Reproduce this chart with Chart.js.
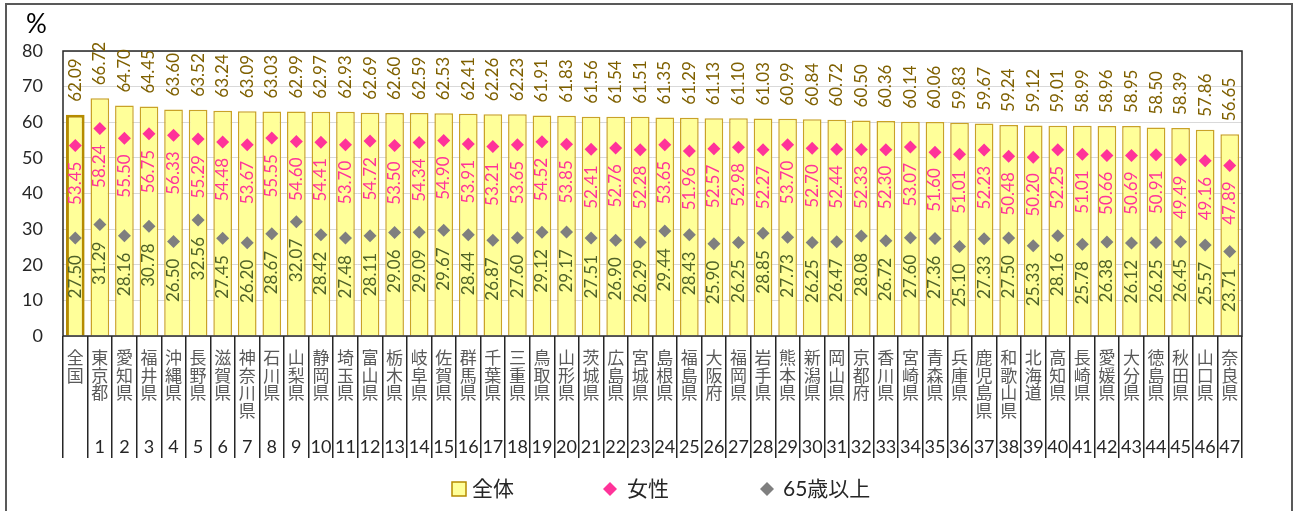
<!DOCTYPE html>
<html><head><meta charset="utf-8">
<script src="https://cdn.jsdelivr.net/npm/chart.js@4"></script>
<style>
html,body{margin:0;padding:0;background:#fff;}
#wrap{position:relative;width:1295px;height:511px;overflow:hidden;}
#frame{position:absolute;left:5px;top:3px;width:1288px;height:600px;border:2px solid #595959;box-sizing:border-box;pointer-events:none;}
canvas{position:absolute;left:0;top:0;}
</style></head><body>
<div id="wrap"><canvas id="c" width="1295" height="511" style="width:1295px;height:511px"></canvas><div id="frame"></div></div>
<script>
const categories = ['全国','東京都','愛知県','福井県','沖縄県','長野県','滋賀県','神奈川県','石川県','山梨県','静岡県','埼玉県','富山県','栃木県','岐阜県','佐賀県','群馬県','千葉県','三重県','鳥取県','山形県','茨城県','広島県','宮城県','島根県','福島県','大阪府','福岡県','岩手県','熊本県','新潟県','岡山県','京都府','香川県','宮崎県','青森県','兵庫県','鹿児島県','和歌山県','北海道','高知県','長崎県','愛媛県','大分県','徳島県','秋田県','山口県','奈良県'];
const ranks = ['','1','2','3','4','5','6','7','8','9','10','11','12','13','14','15','16','17','18','19','20','21','22','23','24','25','26','27','28','29','30','31','32','33','34','35','36','37','38','39','40','41','42','43','44','45','46','47'];
const totalValues = [62.09,66.72,64.70,64.45,63.60,63.52,63.24,63.09,63.03,62.99,62.97,62.93,62.69,62.60,62.59,62.53,62.41,62.26,62.23,61.91,61.83,61.56,61.54,61.51,61.35,61.29,61.13,61.10,61.03,60.99,60.84,60.72,60.50,60.36,60.14,60.06,59.83,59.67,59.24,59.12,59.01,58.99,58.96,58.95,58.50,58.39,57.86,56.65];
const femaleValues = [53.45,58.24,55.50,56.75,56.33,55.29,54.48,53.67,55.55,54.60,54.41,53.70,54.72,53.50,54.34,54.90,53.91,53.21,53.65,54.52,53.85,52.41,52.76,52.28,53.65,51.96,52.57,52.98,52.27,53.70,52.70,52.44,52.33,52.30,53.07,51.60,51.01,52.23,50.48,50.20,52.25,51.01,50.66,50.69,50.91,49.49,49.16,47.89];
const seniorValues = [27.50,31.29,28.16,30.78,26.50,32.56,27.45,26.20,28.67,32.07,28.42,27.48,28.11,29.06,29.09,29.67,28.44,26.87,27.60,29.12,29.17,27.51,26.90,26.29,29.44,28.43,25.90,26.25,28.85,27.73,26.25,26.47,28.08,26.72,27.60,27.36,25.10,27.33,27.50,25.33,28.16,25.78,26.38,26.12,26.25,26.45,25.57,23.71];
const seriesNames = ['全体','女性','65歳以上'];
const unitLabel = '%';
const yMin = 0, yMax = 80, yStep = 10;

const COL_BAR = '#FFFF99', COL_BAR_BORDER = '#C9A227', COL_BAR_BORDER0 = '#B58B00';
const COL_FEMALE = '#FF3399', COL_SENIOR = '#7F7F7F';
const LBL_TOTAL = '#7F6000', LBL_FEMALE = '#FF3399', LBL_SENIOR = '#4F6228';

Chart.defaults.font.family = 'Lato, "Noto Sans CJK JP", sans-serif';

function rotText(ctx, text, x, y, align, color) {
  ctx.save();
  ctx.translate(x, y);
  ctx.rotate(-Math.PI / 2);
  ctx.textAlign = align;
  ctx.textBaseline = 'middle';
  ctx.fillStyle = color;
  ctx.fillText(text, 0, 0);
  ctx.restore();
}

const decorPlugin = {
  id: 'decor',
  afterDatasetsDraw(chart) {
    const ctx = chart.ctx;
    const a = chart.chartArea;
    ctx.save();
    ctx.strokeStyle = '#262626';
    ctx.lineWidth = 1.5;
    ctx.strokeRect(a.left, a.top, a.right - a.left, a.bottom - a.top);
    ctx.font = '17px Lato';
    const bars = chart.getDatasetMeta(0).data;
    bars.forEach((b, i) => rotText(ctx, totalValues[i].toFixed(2), b.x, b.y - 13, 'left', LBL_TOTAL));
    chart.getDatasetMeta(1).data.forEach((p, i) => rotText(ctx, femaleValues[i].toFixed(2), p.x, p.y + 16, 'right', LBL_FEMALE));
    chart.getDatasetMeta(2).data.forEach((p, i) => rotText(ctx, seniorValues[i].toFixed(2), p.x, p.y + 17, 'right', LBL_SENIOR));
    ctx.restore();
  },
  afterDraw(chart) {
    const ctx = chart.ctx;
    ctx.save();
    // unit label
    ctx.font = '26px Lato';
    ctx.textBaseline = 'middle';
    ctx.textAlign = 'left';
    ctx.fillStyle = '#000';
    ctx.fillText(unitLabel, 26, 25);
    // legend
    const cy = 489;
    ctx.font = '21px Lato, "Noto Sans CJK JP"';
    ctx.fillStyle = COL_BAR; ctx.strokeStyle = COL_BAR_BORDER0; ctx.lineWidth = 1.5;
    ctx.fillRect(452, cy - 7, 14, 14); ctx.strokeRect(452, cy - 7, 14, 14);
    ctx.fillStyle = '#262626'; ctx.fillText(seriesNames[0], 472, cy);
    const diamond = (x, color) => {
      ctx.beginPath(); ctx.moveTo(x - 7, cy); ctx.lineTo(x, cy - 7); ctx.lineTo(x + 7, cy); ctx.lineTo(x, cy + 7); ctx.closePath();
      ctx.fillStyle = color; ctx.fill();
    };
    diamond(610, COL_FEMALE);
    ctx.fillStyle = '#262626'; ctx.fillText(seriesNames[1], 627, cy);
    diamond(767, COL_SENIOR);
    ctx.fillStyle = '#262626'; ctx.fillText(seriesNames[2], 783, cy);
    ctx.restore();
  }
};

new Chart(document.getElementById('c'), {
  data: {
    labels: categories,
    datasets: [
      { type: 'bar', label: seriesNames[0], data: totalValues, order: 3,
        backgroundColor: COL_BAR,
        borderColor: (c) => c.dataIndex === 0 ? COL_BAR_BORDER0 : COL_BAR_BORDER,
        borderWidth: (c) => c.dataIndex === 0 ? 3 : 1.5,
        barPercentage: 0.76, categoryPercentage: 1 },
      { type: 'line', label: seriesNames[1], data: femaleValues, order: 2, showLine: false,
        pointStyle: 'rectRot', pointRadius: 6.5, pointHoverRadius: 6.5, pointBorderWidth: 0,
        pointBackgroundColor: COL_FEMALE, backgroundColor: COL_FEMALE, borderColor: COL_FEMALE },
      { type: 'line', label: seriesNames[2], data: seniorValues, order: 1, showLine: false,
        pointStyle: 'rectRot', pointRadius: 6.5, pointHoverRadius: 6.5, pointBorderWidth: 0,
        pointBackgroundColor: COL_SENIOR, backgroundColor: COL_SENIOR, borderColor: COL_SENIOR }
    ]
  },
  options: {
    responsive: false,
    animation: false,
    events: [],
    layout: { padding: { left: 10, right: 53, top: 51, bottom: 51 } },
    plugins: {
      legend: { display: false },
      tooltip: { enabled: false },
      title: { display: false }
    },
    scales: {
      y: {
        min: yMin, max: yMax,
        ticks: { stepSize: yStep, font: { size: 18 }, color: '#262626', padding: 20 },
        grid: { color: '#D9D9D9', lineWidth: 1, drawTicks: false },
        border: { display: false },
        afterFit: (s) => { s.width = 53; }
      },
      x: {
        type: 'category', position: 'bottom', offset: true,
        ticks: { autoSkip: false, maxRotation: 0, minRotation: 0, padding: -109,
          font: { size: 17, lineHeight: 1.03, family: '"Noto Sans CJK JP", sans-serif' }, color: '#595959',
          callback: (v, i) => categories[i].split('') },
        grid: { display: true, drawOnChartArea: false, drawTicks: true, tickLength: 122, offset: true,
          color: '#262626', lineWidth: 1.5 },
        border: { display: false },
        afterFit: (s) => { s.height = 96; }
      },
      x2: {
        type: 'category', position: 'bottom', offset: true, weight: 1, labels: ranks,
        ticks: { autoSkip: false, maxRotation: 0, minRotation: 0, padding: 4,
          font: { size: 18 }, color: '#262626' },
        grid: { display: false, drawTicks: false },
        border: { display: false },
        afterFit: (s) => { s.height = 28; }
      }
    }
  },
  plugins: [decorPlugin]
});
</script>
</body></html>
